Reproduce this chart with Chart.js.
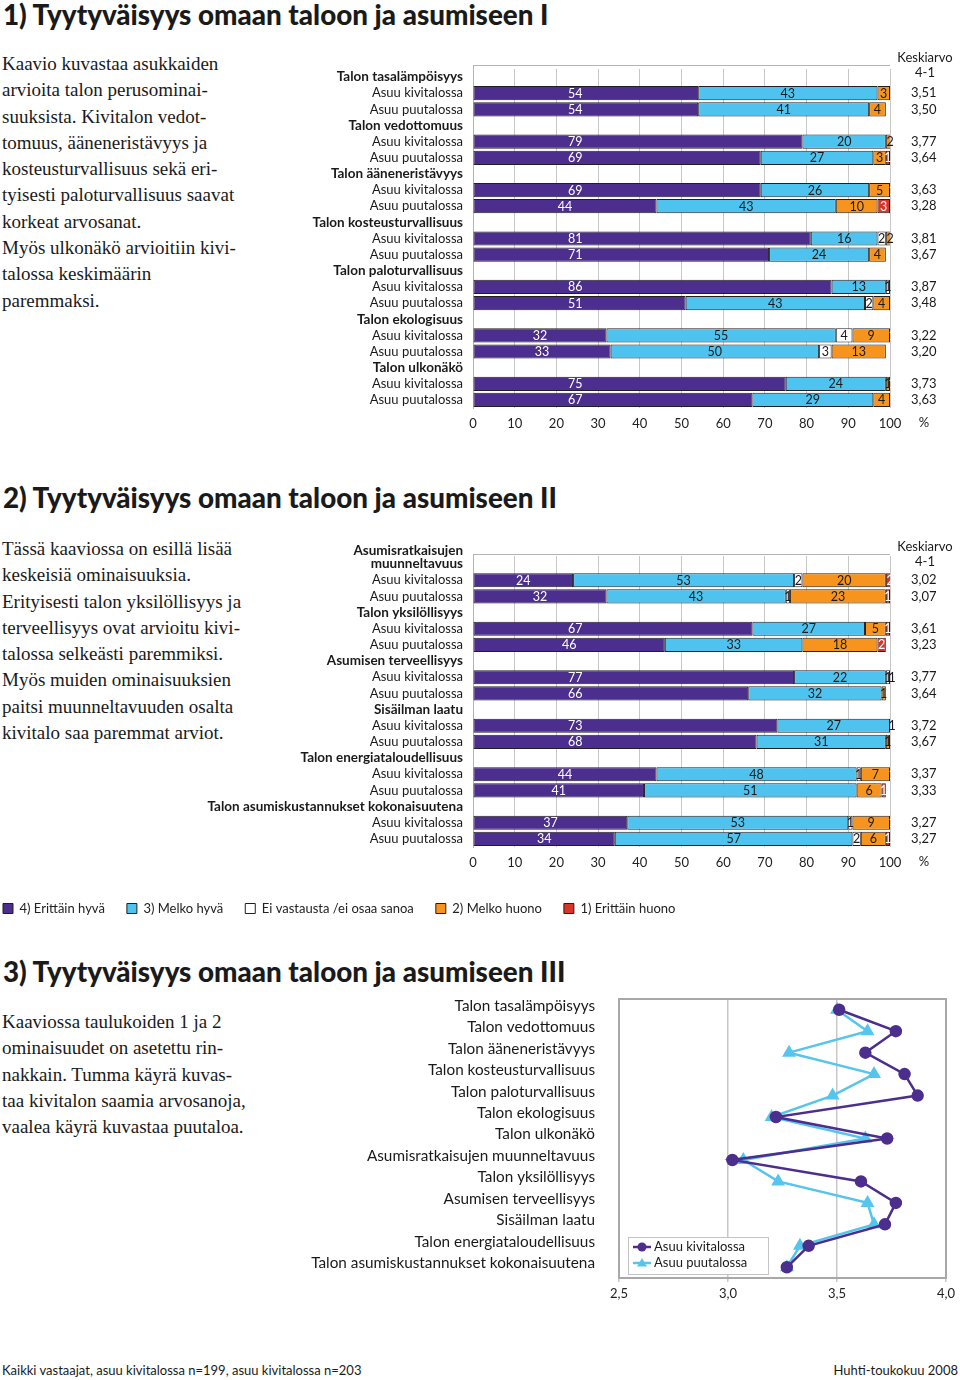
<!DOCTYPE html>
<html lang="fi">
<head>
<meta charset="UTF-8">
<title>Tyytyväisyys omaan taloon ja asumiseen</title>
<script src="https://cdn.jsdelivr.net/npm/chart.js"></script>
<style>
    body { margin: 0; width: 960px; height: 1380px; position: relative; overflow: hidden; background: #fff; color: #1a1a1a; }
    .title { position: absolute; left: 3px; margin: 0; font: 900 27.8px/30px Lato, sans-serif; white-space: nowrap; }
    .text { position: absolute; left: 2px; margin: 0; font: 19px/26.3px "Liberation Serif", serif; white-space: nowrap; }
    .chart { position: absolute; }
    .foot { position: absolute; top: 1362px; margin: 0; font: 13px/16px "Liberation Sans Narrow", Lato, sans-serif; }
</style>
</head>
<body>
    <!-- 1 -->
    <h1 class="title" style="top:0">1) Tyytyväisyys omaan taloon ja asumiseen I</h1>
    <p class="text" style="top:51px">Kaavio kuvastaa asukkaiden<br>arvioita talon perusominai-<br>suuksista. Kivitalon vedot-<br>tomuus, ääneneristävyys ja<br>kosteusturvallisuus sekä eri-<br>tyisesti paloturvallisuus saavat<br>korkeat arvosanat.<br>Myös ulkonäkö arvioitiin kivi-<br>talossa keskimäärin<br>paremmaksi.</p>
    <div class="chart" style="left:0; top:40px; width:960px; height:398px"><canvas id="chart1"></canvas></div>

    <!-- 2 -->
    <h1 class="title" style="top:483px">2) Tyytyväisyys omaan taloon ja asumiseen II</h1>
    <p class="text" style="top:536px">Tässä kaaviossa on esillä lisää<br>keskeisiä ominaisuuksia.<br>Erityisesti talon yksilöllisyys ja<br>terveellisyys ovat arvioitu kivi-<br>talossa selkeästi paremmiksi.<br>Myös muiden ominaisuuksien<br>paitsi muunneltavuuden osalta<br>kivitalo saa paremmat arviot.</p>
    <div class="chart" style="left:-19px; top:530px; width:979px; height:395px"><canvas id="chart2"></canvas></div>

    <!-- 3 -->
    <h1 class="title" style="top:957px">3) Tyytyväisyys omaan taloon ja asumiseen III</h1>
    <p class="text" style="top:1009px">Kaaviossa taulukoiden 1 ja 2<br>ominaisuudet on asetettu rin-<br>nakkain. Tumma käyrä kuvas-<br>taa kivitalon saamia arvosanoja,<br>vaalea käyrä kuvastaa puutaloa.</p>
    <div class="chart" style="left:200px; top:990px; width:760px; height:318px"><canvas id="chart3"></canvas></div>

    <p class="foot" style="left:2px">Kaikki vastaajat, asuu kivitalossa n=199, asuu kivitalossa n=203</p>
    <p class="foot" style="right:2px">Huhti-toukokuu 2008</p>

<script>
// --- data ---
const residence = ['Asuu kivitalossa', 'Asuu puutalossa'];
const responseLabels = ['4) Erittäin hyvä', '3) Melko hyvä', 'Ei vastausta /ei osaa sanoa', '2) Melko huono', '1) Erittäin huono'];

// chart 1 (values per category: kivitalo, puutalo)
const categories1 = ['Talon tasalämpöisyys', 'Talon vedottomuus', 'Talon ääneneristävyys', 'Talon kosteusturvallisuus',
    'Talon paloturvallisuus', 'Talon ekologisuus', 'Talon ulkonäkö'];
const erittainHyva1 = [54, 54, 79, 69, 69, 44, 81, 71, 86, 51, 32, 33, 75, 67];
const melkoHyva1 = [43, 41, 20, 27, 26, 43, 16, 24, 13, 43, 55, 50, 24, 29];
const eiVastausta1 = [0, 0, 0, 0, 0, 0, 2, 0, 1, 2, 4, 3, 0, 0];
const melkoHuono1 = [3, 4, 2, 3, 5, 10, 2, 4, 0, 4, 9, 13, 1, 4];
const erittainHuono1 = [0, 0, 0, 1, 1, 3, 0, 0, 0, 0, 1, 0, 1, 0];
const keskiarvo1 = [3.51, 3.50, 3.77, 3.64, 3.63, 3.28, 3.81, 3.67, 3.87, 3.48, 3.22, 3.20, 3.73, 3.63];

// chart 2
const categories2 = ['Asumisratkaisujen muunneltavuus', 'Talon yksilöllisyys', 'Asumisen terveellisyys', 'Sisäilman laatu',
    'Talon energiataloudellisuus', 'Talon asumiskustannukset kokonaisuutena'];
const erittainHyva2 = [24, 32, 67, 46, 77, 66, 73, 68, 44, 41, 37, 34];
const melkoHyva2 = [53, 43, 27, 33, 22, 32, 27, 31, 48, 51, 53, 57];
const eiVastausta2 = [2, 1, 0, 0, 1, 0, 0, 0, 1, 0, 1, 2];
const melkoHuono2 = [20, 23, 5, 18, 1, 1, 1, 1, 7, 6, 9, 6];
const erittainHuono2 = [2, 1, 1, 2, 0, 0, 0, 0, 1, 1, 1, 1];
const keskiarvo2 = [3.02, 3.07, 3.61, 3.23, 3.77, 3.64, 3.72, 3.67, 3.37, 3.33, 3.27, 3.27];

const percentTicks = [0, 10, 20, 30, 40, 50, 60, 70, 80, 90, 100];
const meanTicks = [2.5, 3.0, 3.5, 4.0];

const colors = ['#4b2e8d', '#4fc3ef', '#ffffff', '#f7941e', '#d8342a'];
const labelColors = ['#ffffff', '#1a1a1a', '#1a1a1a', '#1a1a1a', '#ffffff'];
const outline = '#231f20';

Chart.defaults.font.family = 'Lato, sans-serif';
Chart.defaults.color = '#1a1a1a';

const fmt = (v) => v.toFixed(2).replace('.', ',');
// two-line heading (empty third line lifts it above the bars, as in the print)
const wrapped = { 'Asumisratkaisujen muunneltavuus': ['Asumisratkaisujen', 'muunneltavuus', ''] };

// one header row + kivitalo + puutalo per category
function spread(vals) {
    const out = [];
    for (let i = 0; i < vals.length; i += 2) out.push(null, vals[i], vals[i + 1]);
    return out;
}

// fixed axis width, no extra label padding pushed into the layout
const fixWidth = (w) => (s) => { s.width = w; s.paddingTop = 0; s.paddingBottom = 0; };

// numbers inside the bar segments
const segmentLabels = {
    id: 'segmentLabels',
    afterDatasetsDraw(chart) {
        const { ctx } = chart;
        const x = chart.scales.x;
        ctx.save();
        ctx.font = '12.5px Lato, sans-serif';
        ctx.textAlign = 'center';
        ctx.textBaseline = 'middle';
        chart.data.datasets.forEach((ds, i) => {
            chart.getDatasetMeta(i).data.forEach((bar, j) => {
                const v = ds.data[j];
                if (!v) return;
                let cx = (bar.x + bar.base) / 2;
                if (i === 0) cx = Math.min(cx, x.getPixelForValue(24.5));
                ctx.fillStyle = ds.labelColor;
                ctx.fillText(String(v), cx, bar.y + 0.5);
            });
        });
        ctx.restore();
    }
};

// top edge, "Keskiarvo 4-1" heading and the % sign
const sideNotes = {
    id: 'sideNotes',
    beforeDatasetsDraw(chart) {
        const { ctx, chartArea: a } = chart;
        const gap = chart.options.topGap || 0;
        ctx.save();
        ctx.strokeStyle = '#b4b4b4';
        ctx.lineWidth = 1;
        ctx.beginPath();
        ctx.moveTo(a.left, a.top - gap + 0.5);
        ctx.lineTo(a.right, a.top - gap + 0.5);
        ctx.moveTo(a.left + 0.5, a.top - gap);
        ctx.lineTo(a.left + 0.5, a.top);
        ctx.stroke();
        ctx.restore();
    },
    afterDraw(chart) {
        const { ctx, chartArea: a } = chart;
        const gap = chart.options.topGap || 0;
        const cx = a.right + 35;
        ctx.save();
        ctx.font = '13px Lato, sans-serif';
        ctx.fillStyle = '#1a1a1a';
        ctx.textAlign = 'center';
        ctx.textBaseline = 'middle';
        ctx.fillText('Keskiarvo', cx, a.top - gap - 7);
        ctx.fillText('4-1', cx, a.top - gap + 8);
        ctx.textBaseline = 'top';
        ctx.fillText('%', cx - 1, a.bottom + 8);
        ctx.restore();
    }
};

function barChart(id, cats, series, means, opt) {
    const labels = cats.flatMap(c => [wrapped[c] || c, ...residence]);
    const meanLabels = spread(means).map(v => v == null ? '' : fmt(v));
    return new Chart(document.getElementById(id), {
        type: 'bar',
        data: {
            labels: labels,
            datasets: series.map((vals, i) => ({
                label: responseLabels[i],
                data: spread(vals),
                backgroundColor: colors[i],
                borderColor: outline,
                borderWidth: 1,
                borderSkipped: false,
                labelColor: labelColors[i],
                barPercentage: 0.88,
                categoryPercentage: 1
            }))
        },
        options: {
            indexAxis: 'y',
            responsive: true,
            maintainAspectRatio: false,
            animation: false,
            topGap: opt.gap,
            layout: { padding: { top: opt.top } },
            plugins: {
                legend: opt.legend ? {
                    position: 'bottom',
                    align: 'start',
                    labels: { boxWidth: 10, boxHeight: 10, padding: 22, color: '#222', font: { size: 13 } }
                } : { display: false },
                tooltip: { enabled: false }
            },
            scales: {
                x: {
                    type: 'linear',
                    stacked: true,
                    min: 0,
                    max: 100,
                    afterBuildTicks: (s) => { s.ticks = percentTicks.map(v => ({ value: v })); },
                    grid: { color: '#c8c8c8', drawTicks: false },
                    border: { display: false },
                    ticks: { padding: 8, color: '#222', font: { size: 13 } },
                    afterFit: (s) => { s.height = opt.xHeight; }
                },
                y: {
                    type: 'category',
                    stacked: true,
                    offset: true,
                    grid: { display: false, drawTicks: false },
                    border: { display: true, color: '#b4b4b4' },
                    ticks: {
                        autoSkip: false,
                        padding: 10,
                        color: '#1a1a1a',
                        font: (c) => c.index % 3 === 0
                            ? { size: 13.5, weight: 'bold', lineHeight: 1 }
                            : { size: 13, weight: 'normal', lineHeight: 1 }
                    },
                    afterFit: fixWidth(opt.yWidth)
                },
                y2: {
                    type: 'category',
                    axis: 'y',
                    position: 'right',
                    labels: meanLabels,
                    offset: true,
                    grid: { display: false, drawTicks: false },
                    border: { display: false },
                    ticks: { autoSkip: false, crossAlign: 'near', padding: 21, color: '#1a1a1a', font: { size: 13 } },
                    afterFit: fixWidth(70)
                }
            }
        },
        plugins: [segmentLabels, sideNotes]
    });
}

barChart('chart1', categories1,
    [erittainHyva1, melkoHyva1, eiVastausta1, melkoHuono1, erittainHuono1], keskiarvo1,
    { top: 29, gap: 4, xHeight: 30, yWidth: 473, legend: false });

barChart('chart2', categories2,
    [erittainHyva2, melkoHyva2, eiVastausta2, melkoHuono2, erittainHuono2], keskiarvo2,
    { top: 26, gap: 2, xHeight: 33, yWidth: 492, legend: true });

// chart 3: means side by side
const categories3 = categories1.concat(categories2);
const kivitalo3 = keskiarvo1.filter((v, i) => i % 2 === 0).concat(keskiarvo2.filter((v, i) => i % 2 === 0));
const puutalo3 = keskiarvo1.filter((v, i) => i % 2 === 1).concat(keskiarvo2.filter((v, i) => i % 2 === 1));

const frame = {
    id: 'frame',
    afterDatasetsDraw(chart) {
        const { ctx, chartArea: a } = chart;
        ctx.save();
        ctx.strokeStyle = '#a8a8a8';
        ctx.lineWidth = 2;
        ctx.strokeRect(a.left, a.top, a.right - a.left, a.bottom - a.top);
        ctx.restore();
    }
};

const insideLegend = {
    id: 'insideLegend',
    afterDraw(chart) {
        const { ctx, chartArea: a } = chart;
        const x0 = a.left + 9, y0 = a.bottom - 41;
        ctx.save();
        ctx.fillStyle = '#fff';
        ctx.fillRect(x0, y0, 140, 37);
        ctx.strokeStyle = '#c4c4c4';
        ctx.lineWidth = 1;
        ctx.strokeRect(x0 + 0.5, y0 + 0.5, 140, 37);
        chart.data.datasets.forEach((ds, i) => {
            const y = y0 + 10 + i * 16;
            const mx = x0 + 14;
            ctx.strokeStyle = ds.borderColor;
            ctx.lineWidth = ds.borderWidth;
            ctx.beginPath();
            ctx.moveTo(x0 + 5, y);
            ctx.lineTo(x0 + 23, y);
            ctx.stroke();
            ctx.fillStyle = ds.pointBackgroundColor;
            ctx.beginPath();
            if (ds.pointStyle === 'triangle') {
                ctx.moveTo(mx, y - 5);
                ctx.lineTo(mx + 5, y + 3.5);
                ctx.lineTo(mx - 5, y + 3.5);
                ctx.closePath();
            } else {
                ctx.arc(mx, y, 4.5, 0, Math.PI * 2);
            }
            ctx.fill();
            ctx.fillStyle = '#1a1a1a';
            ctx.font = '13px Lato, sans-serif';
            ctx.textBaseline = 'middle';
            ctx.fillText(ds.label, x0 + 26, y);
        });
        ctx.restore();
    }
};

new Chart(document.getElementById('chart3'), {
    type: 'line',
    data: {
        labels: categories3,
        datasets: [{
            label: 'Asuu kivitalossa',
            data: kivitalo3,
            borderColor: '#4b2e8d',
            backgroundColor: '#4b2e8d',
            pointBackgroundColor: '#4b2e8d',
            pointBorderColor: '#4b2e8d',
            pointStyle: 'circle',
            pointRadius: 5,
            borderWidth: 2.5
        }, {
            label: 'Asuu puutalossa',
            data: puutalo3,
            borderColor: '#56c5ee',
            backgroundColor: '#56c5ee',
            pointBackgroundColor: '#56c5ee',
            pointBorderColor: '#56c5ee',
            pointStyle: 'triangle',
            pointRadius: 5.5,
            borderWidth: 2.5
        }]
    },
    options: {
        indexAxis: 'y',
        responsive: true,
        maintainAspectRatio: false,
        animation: false,
        layout: { padding: { top: 9, right: 14 } },
        plugins: { legend: { display: false }, tooltip: { enabled: false } },
        scales: {
            x: {
                type: 'linear',
                min: 2.5,
                max: 4.0,
                afterBuildTicks: (s) => { s.ticks = meanTicks.map(v => ({ value: v })); },
                grid: {
                    color: (c) => (c.tick && (c.tick.value === 3 || c.tick.value === 3.5)) ? '#c8c8c8' : 'rgba(0,0,0,0)',
                    lineWidth: 1.5,
                    tickColor: '#c8c8c8',
                    tickLength: 4
                },
                border: { display: false },
                ticks: {
                    padding: 4,
                    color: '#222',
                    font: { size: 13 },
                    callback: (v) => Number(v).toFixed(1).replace('.', ',')
                },
                afterFit: (s) => { s.height = 30; }
            },
            y: {
                type: 'category',
                offset: true,
                grid: { display: false, drawTicks: false },
                border: { display: false },
                ticks: { autoSkip: false, padding: 24, labelOffset: -4, color: '#1a1a1a', font: { size: 15.3 } },
                afterFit: fixWidth(419)
            }
        }
    },
    plugins: [frame, insideLegend]
});
</script>
</body>
</html>
